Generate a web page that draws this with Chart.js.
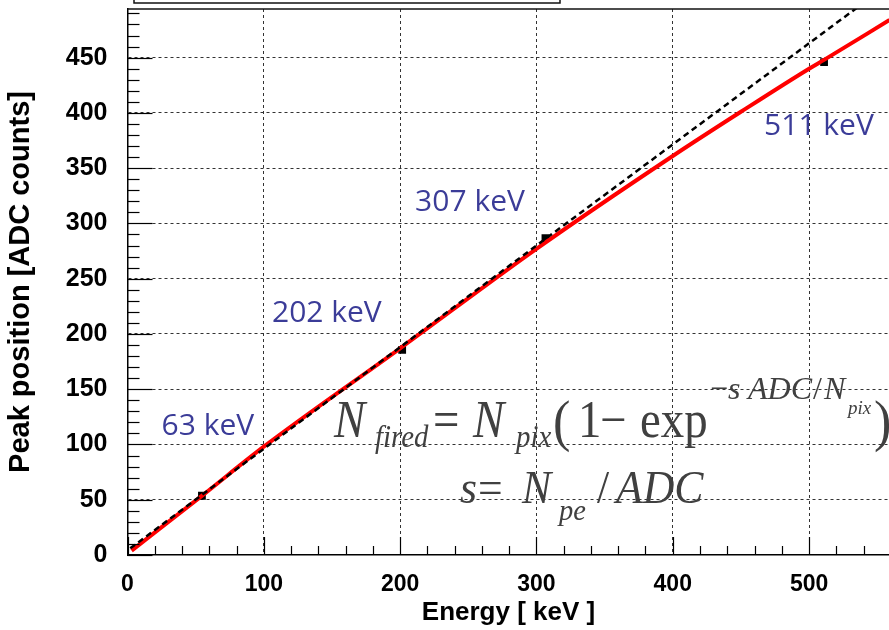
<!DOCTYPE html>
<html>
<head>
<meta charset="utf-8">
<title>Peak position vs energy</title>
<script src="https://cdn.jsdelivr.net/npm/chart.js@4.4.1/dist/chart.umd.min.js"></script>
<style>
  html, body { margin: 0; padding: 0; background: #fff; overflow: hidden; }
  /* the frame runs off the right edge, so the canvas is a bit wider than the page */
  #wrap { width: 889px; height: 630px; overflow: hidden; }
</style>
</head>
<body>
<div id="wrap"><canvas id="peakChart" width="895" height="630"></canvas></div>
<script>
// measured photopeaks
const peakEnergy = [54.6, 201.5, 306.6, 511];
const peakAdc = [53.6, 185.5, 286.6, 446];
const peakNames = ['63 keV', '202 keV', '307 keV', '511 keV'];

// saturation fit (red)
const fitEnergy = [3, 55, 100, 200, 300, 400, 450, 500, 511, 559];
const fitAdc = [4, 54, 98, 187, 277, 361, 401, 440, 448, 484];

// linear extrapolation (dashed)
const linEnergy = [2, 300, 400, 535];
const linAdc = [6, 280, 371.5, 495];

// axis ticks
const xTicks = [0, 100, 200, 300, 400, 500];
const yTicks = [0, 50, 100, 150, 200, 250, 300, 350, 400, 450];

const toXY = (xs, ys) => xs.map((v, i) => ({ x: v, y: ys[i] }));

const sansBold = '"Liberation Sans", Arial, Helvetica, sans-serif';
const serif = '"Liberation Serif", "Times New Roman", serif';

// draws one piece of the formula, squeezed a little horizontally
function put(ctx, text, x, y, size, italic, sx) {
    ctx.save();
    ctx.font = (italic ? 'italic ' : '') + size + 'px ' + serif;
    ctx.translate(x, y);
    ctx.scale(sx, 1);
    ctx.fillText(text, 0, 0);
    ctx.restore();
}

const decorPlugin = {
    id: 'decor',
    afterDraw(chart) {
        const { ctx, chartArea: a, scales: { x, y } } = chart;
        ctx.save();

        // stub of the stats box above the frame
        ctx.fillStyle = '#fff';
        ctx.strokeStyle = '#111';
        ctx.lineWidth = 1.5;
        ctx.fillRect(134, -10, 426, 13);
        ctx.strokeRect(134, -10, 426, 13);

        // top edge of the frame
        ctx.beginPath();
        ctx.moveTo(a.left, a.top);
        ctx.lineTo(a.right, a.top);
        ctx.stroke();

        // inward ticks
        ctx.lineWidth = 1.2;
        ctx.strokeStyle = '#000';
        for (let v = 0; v <= y.max; v += 10) {
            const py = Math.round(y.getPixelForValue(v)) + 0.5;
            const len = v % 50 === 0 ? 25 : 12;
            ctx.beginPath();
            ctx.moveTo(a.left, py);
            ctx.lineTo(a.left + len, py);
            ctx.stroke();
        }
        for (let v = 0; v <= x.max; v += 20) {
            const px = Math.round(x.getPixelForValue(v)) + 0.5;
            const len = v % 100 === 0 ? 18 : 9;
            ctx.beginPath();
            ctx.moveTo(px, a.bottom);
            ctx.lineTo(px, a.bottom - len);
            ctx.stroke();
        }

        // peak names (energy, ADC of text start)
        const spots = [[25, 109], [106, 211], [211, 311], [467, 380]];
        ctx.fillStyle = '#3b3c98';
        ctx.font = '30px "Open Sans", "Noto Sans", sans-serif';
        ctx.textBaseline = 'alphabetic';
        peakNames.forEach((name, i) => {
            ctx.fillText(name, x.getPixelForValue(spots[i][0]), y.getPixelForValue(spots[i][1]));
        });

        // formula
        ctx.fillStyle = '#404040';
        put(ctx, 'N', 334, 437, 52, true, 0.9);
        put(ctx, 'fired', 375, 447, 32, true, 0.9);
        put(ctx, '=', 433, 437, 52, false, 0.9);
        put(ctx, 'N', 473, 437, 52, true, 0.9);
        put(ctx, 'pix', 516, 447, 32, true, 0.9);
        put(ctx, '(', 553, 440, 58, false, 0.9);
        put(ctx, '1', 578, 437, 52, false, 0.9);
        put(ctx, '\u2212', 600, 437, 52, false, 0.9);
        put(ctx, 'exp', 640, 437, 52, false, 0.9);
        put(ctx, '\u2212', 710, 399, 32, false, 1);
        put(ctx, 's', 728, 399, 32, true, 1);
        put(ctx, 'ADC', 748, 399, 32, true, 1);
        put(ctx, '/', 813, 399, 32, false, 1);
        put(ctx, 'N', 824, 399, 32, true, 1);
        put(ctx, 'pix', 848, 414, 19, true, 1);
        put(ctx, ')', 874, 440, 58, false, 0.9);

        put(ctx, 's', 460, 503, 46, true, 0.95);
        put(ctx, '=', 478, 503, 46, false, 0.95);
        put(ctx, 'N', 522, 503, 46, true, 0.95);
        put(ctx, 'pe', 559, 520, 30, true, 0.95);
        put(ctx, '/', 597, 503, 46, false, 0.95);
        put(ctx, 'ADC', 616, 503, 46, true, 0.95);

        ctx.restore();
    }
};

const gridColor = c => (c.tick && c.tick.value === 0) ? 'rgba(0,0,0,0)' : '#333';

new Chart(document.getElementById('peakChart'), {
    type: 'scatter',
    data: {
        datasets: [
            {
                label: 'linear',
                data: toXY(linEnergy, linAdc),
                showLine: true,
                borderColor: '#000',
                borderWidth: 2.5,
                borderDash: [6, 4],
                pointRadius: 0,
                order: 0
            },
            {
                label: 'fit',
                data: toXY(fitEnergy, fitAdc),
                showLine: true,
                borderColor: '#ff0000',
                borderWidth: 4,
                cubicInterpolationMode: 'monotone',
                pointRadius: 0,
                order: 1
            },
            {
                label: 'peaks',
                data: toXY(peakEnergy, peakAdc),
                showLine: false,
                pointStyle: 'rect',
                pointRadius: 5.5,
                backgroundColor: '#000',
                borderWidth: 0,
                order: 2
            }
        ]
    },
    options: {
        responsive: false,
        animation: false,
        devicePixelRatio: 1,
        layout: { padding: { top: 9, right: 0, bottom: 0, left: 0 } },
        plugins: { legend: { display: false }, tooltip: { enabled: false } },
        scales: {
            x: {
                type: 'linear',
                min: 0,
                max: 559,
                afterBuildTicks: s => { s.ticks = xTicks.map(v => ({ value: v })); },
                afterFit: s => {
                    s.height = 75;
                    s.paddingLeft = 0;
                    s.paddingRight = 0;
                },
                grid: { color: gridColor, lineWidth: 1, drawTicks: false },
                border: { display: true, color: '#000', width: 1.5, dash: [3, 3] },
                ticks: {
                    color: '#000',
                    padding: 16,
                    maxRotation: 0,
                    font: { family: sansBold, weight: 'bold', size: 23 }
                },
                title: {
                    display: true,
                    text: 'Energy [ keV ]',
                    color: '#000',
                    font: { family: sansBold, weight: 'bold', size: 26 },
                    padding: { top: 0, bottom: 2 }
                }
            },
            y: {
                type: 'linear',
                min: 0,
                max: 494,
                afterBuildTicks: s => { s.ticks = yTicks.map(v => ({ value: v })); },
                afterFit: s => {
                    s.width = 127.5;
                    s.paddingTop = 0;
                    s.paddingBottom = 0;
                },
                grid: { color: gridColor, lineWidth: 1, drawTicks: false },
                border: { display: true, color: '#000', width: 1.5, dash: [3, 3] },
                ticks: {
                    color: '#000',
                    padding: 20,
                    font: { family: sansBold, weight: 'bold', size: 25 }
                },
                title: {
                    display: true,
                    text: 'Peak position [ADC counts]',
                    color: '#000',
                    font: { family: sansBold, weight: 'bold', size: 29 },
                    padding: { top: 4, bottom: 0 }
                }
            }
        }
    },
    plugins: [decorPlugin]
});
</script>
</body>
</html>
